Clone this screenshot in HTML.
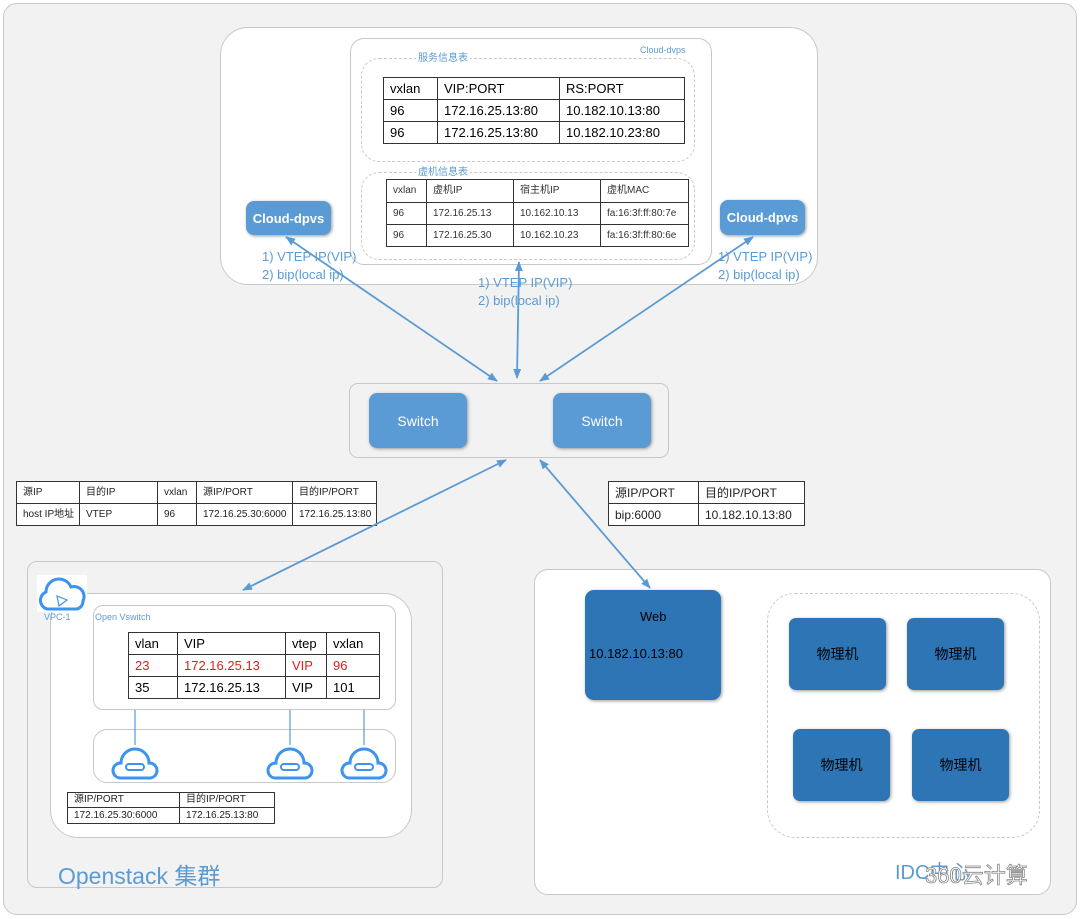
<!DOCTYPE html>
<html><head><meta charset="utf-8"><style>
*{box-sizing:border-box;margin:0;padding:0}
body{width:1080px;height:919px;background:#fff;position:relative;overflow:hidden;font-family:"Liberation Sans","Noto Sans CJK SC",sans-serif}
.a{position:absolute}
.r{position:absolute;border:1px solid #c8c8c8}
table{position:absolute;border-collapse:collapse;background:#fff;table-layout:fixed}
td{border:1.5px solid #333;padding:0 0 0 6px;white-space:nowrap;overflow:hidden;line-height:1;vertical-align:middle}
.blue{color:#5b9bd5}
.btn{position:absolute;background:#5b9bd5;color:#fff;border-radius:8px;display:flex;align-items:center;justify-content:center;box-shadow:1px 1px 3px #999}
.pm{position:absolute;background:#2e75b6;border-radius:7px;display:flex;align-items:center;justify-content:center;font-size:14px;color:#000;box-shadow:1px 1px 3px #999}
</style></head><body>
<div class="r" style="left:3px;top:3px;width:1074px;height:912px;background:#f2f2f2;border-radius:14px"></div>
<div class="r" style="left:220px;top:27px;width:598px;height:258px;background:#fff;border-radius:28px"></div>
<div class="r" style="left:350px;top:38px;width:362px;height:227px;background:#fff;border-radius:14px"></div>
<div class="a blue" style="left:640px;top:45px;font-size:9px">Cloud-dvps</div>
<div class="a" style="left:361px;top:58px;width:334px;height:104px;border:1.5px dashed #c8c8c8;border-radius:18px"></div>
<div class="a blue" style="left:416px;top:49px;font-size:10px;background:#fff;padding:0 2px">服务信息表</div>
<table style="left:383px;top:77px;width:302px;font-size:13px"><tr style="height:22px"><td style="width:54px">vxlan</td><td style="width:122px">VIP:PORT</td><td>RS:PORT</td></tr><tr style="height:22px"><td>96</td><td>172.16.25.13:80</td><td>10.182.10.13:80</td></tr><tr style="height:22px"><td>96</td><td>172.16.25.13:80</td><td>10.182.10.23:80</td></tr></table>
<div class="a" style="left:361px;top:172px;width:334px;height:88px;border:1.5px dashed #c8c8c8;border-radius:18px"></div>
<div class="a blue" style="left:416px;top:163px;font-size:10px;background:#fff;padding:0 2px">虚机信息表</div>
<table style="left:386px;top:179px;width:303px;font-size:10px;color:#333"><tr style="height:23px"><td style="width:40px">vxlan</td><td style="width:87px">虚机IP</td><td style="width:87px">宿主机IP</td><td>虚机MAC</td></tr><tr style="height:22px"><td>96</td><td>172.16.25.13</td><td>10.162.10.13</td><td>fa:16:3f:ff:80:7e</td></tr><tr style="height:22px"><td>96</td><td>172.16.25.30</td><td>10.162.10.23</td><td>fa:16:3f:ff:80:6e</td></tr></table>
<div class="btn" style="left:246px;top:201px;width:85px;height:34px;font-size:13px;font-weight:bold">Cloud-dpvs</div>
<div class="btn" style="left:720px;top:200px;width:85px;height:35px;font-size:13px;font-weight:bold">Cloud-dpvs</div>
<div class="a blue" style="left:262px;top:248px;font-size:13px;line-height:18px">1) VTEP IP(VIP)<br>2) bip(local ip)</div>
<div class="a blue" style="left:478px;top:274px;font-size:13px;line-height:18px">1) VTEP IP(VIP)<br>2) bip(local ip)</div>
<div class="a blue" style="left:718px;top:248px;font-size:13px;line-height:18px">1) VTEP IP(VIP)<br>2) bip(local ip)</div>
<div class="r" style="left:349px;top:383px;width:320px;height:75px;background:#f2f2f2;border-radius:9px"></div>
<div class="btn" style="left:369px;top:393px;width:98px;height:55px;font-size:14px">Switch</div>
<div class="btn" style="left:553px;top:393px;width:98px;height:55px;font-size:14px">Switch</div>
<table style="left:16px;top:481px;width:361px;font-size:10px;color:#222"><tr style="height:22px"><td style="width:63px">源IP</td><td style="width:78px">目的IP</td><td style="width:39px">vxlan</td><td style="width:96px">源IP/PORT</td><td>目的IP/PORT</td></tr><tr style="height:22px"><td>host IP地址</td><td>VTEP</td><td>96</td><td>172.16.25.30:6000</td><td>172.16.25.13:80</td></tr></table>
<table style="left:608px;top:481px;width:197px;font-size:12px;color:#222"><tr style="height:22px"><td style="width:90px">源IP/PORT</td><td>目的IP/PORT</td></tr><tr style="height:22px"><td>bip:6000</td><td>10.182.10.13:80</td></tr></table>
<div class="r" style="left:27px;top:561px;width:416px;height:327px;background:#f2f2f2;border-radius:10px"></div>
<div class="r" style="left:50px;top:593px;width:362px;height:245px;background:#fff;border-radius:28px"></div>
<div class="a" style="left:37px;top:575px;width:50px;height:37px;background:#fff"></div>
<svg class="a" style="left:37px;top:575px" width="52" height="40"><path d="M10 34 A9 9 0 0 1 9 17 A13 13 0 0 1 34 12 A10 10 0 0 1 46 26 A8 8 0 0 1 40 34 Z" fill="none" stroke="#3c94f0" stroke-width="3"/><path d="M20 21 L30 25 L22 31 Z" fill="none" stroke="#3c94f0" stroke-width="1.2"/></svg>
<div class="a blue" style="left:44px;top:612px;font-size:9px">VPC-1</div>
<div class="r" style="left:93px;top:605px;width:303px;height:105px;background:#fff;border-radius:10px"></div>
<div class="a blue" style="left:95px;top:612px;font-size:9px">Open Vswitch</div>
<table style="left:128px;top:632px;width:252px;font-size:13px"><tr style="height:22px"><td style="width:49px">vlan</td><td style="width:108px">VIP</td><td style="width:41px">vtep</td><td>vxlan</td></tr><tr style="height:22px;color:#e02020"><td>23</td><td>172.16.25.13</td><td>VIP</td><td>96</td></tr><tr style="height:22px"><td>35</td><td>172.16.25.13</td><td>VIP</td><td>101</td></tr></table>
<div class="r" style="left:93px;top:729px;width:303px;height:54px;background:#fff;border-radius:14px"></div>
<svg class="a" style="left:0;top:0" width="1080" height="919">
<g stroke="#5b9bd5" stroke-width="1.2"><line x1="135" y1="710" x2="135" y2="745"/><line x1="290" y1="710" x2="290" y2="745"/><line x1="364" y1="710" x2="364" y2="745"/></g>
<g fill="none" stroke="#3c94f0" stroke-width="3">
<path d="M120 778 A7 7 0 0 1 121 763 A14 14 0 0 1 149 763 A7 7 0 0 1 150 778 Z"/>
<path d="M275 778 A7 7 0 0 1 276 763 A14 14 0 0 1 304 763 A7 7 0 0 1 305 778 Z"/>
<path d="M349 778 A7 7 0 0 1 350 763 A14 14 0 0 1 378 763 A7 7 0 0 1 379 778 Z"/>
</g>
<g fill="none" stroke="#3c94f0" stroke-width="2"><rect x="126" y="764" width="18" height="6" rx="3"/><rect x="281" y="764" width="18" height="6" rx="3"/><rect x="355" y="764" width="18" height="6" rx="3"/></g>
</svg>
<table style="left:67px;top:792px;width:208px;font-size:10px;color:#222"><tr style="height:15px"><td style="width:112px">源IP/PORT</td><td>目的IP/PORT</td></tr><tr style="height:16px"><td>172.16.25.30:6000</td><td>172.16.25.13:80</td></tr></table>
<div class="a blue" style="left:58px;top:857px;font-size:23px">Openstack 集群</div>
<div class="r" style="left:534px;top:569px;width:517px;height:326px;background:#fff;border-radius:14px"></div>
<div class="a" style="left:585px;top:590px;width:136px;height:110px;background:#2e75b6;border-radius:9px;box-shadow:1px 1px 3px #999"></div>
<div class="a" style="left:640px;top:609px;font-size:13px">Web</div>
<div class="a" style="left:589px;top:646px;font-size:13px">10.182.10.13:80</div>
<div class="a" style="left:767px;top:593px;width:273px;height:245px;border:1.5px dashed #c8c8c8;border-radius:28px"></div>
<div class="pm" style="left:789px;top:618px;width:97px;height:72px">物理机</div>
<div class="pm" style="left:907px;top:618px;width:97px;height:72px">物理机</div>
<div class="pm" style="left:793px;top:729px;width:97px;height:72px">物理机</div>
<div class="pm" style="left:912px;top:729px;width:97px;height:72px">物理机</div>
<div class="a blue" style="left:895px;top:856px;font-size:20px">IDC中心</div>
<div class="a" style="left:925px;top:858px;font-size:22px;color:#fff;-webkit-text-stroke:0.8px #888">360云计算</div>
<svg class="a" style="left:0;top:0" width="1080" height="919">
<defs><marker id="m" markerWidth="10" markerHeight="8" refX="9" refY="4" orient="auto-start-reverse" markerUnits="userSpaceOnUse"><path d="M0 0 L10 4 L0 8 Z" fill="#5b9bd5"/></marker></defs>
<g stroke="#5b9bd5" stroke-width="1.8" fill="none">
<line x1="286" y1="237" x2="497" y2="381" marker-start="url(#m)" marker-end="url(#m)"/>
<line x1="519" y1="262" x2="517" y2="378" marker-start="url(#m)" marker-end="url(#m)"/>
<line x1="753" y1="237" x2="540" y2="381" marker-start="url(#m)" marker-end="url(#m)"/>
<line x1="506" y1="460" x2="243" y2="590" marker-start="url(#m)" marker-end="url(#m)"/>
<line x1="540" y1="460" x2="650" y2="588" marker-start="url(#m)" marker-end="url(#m)"/>
</g></svg>
</body></html>
